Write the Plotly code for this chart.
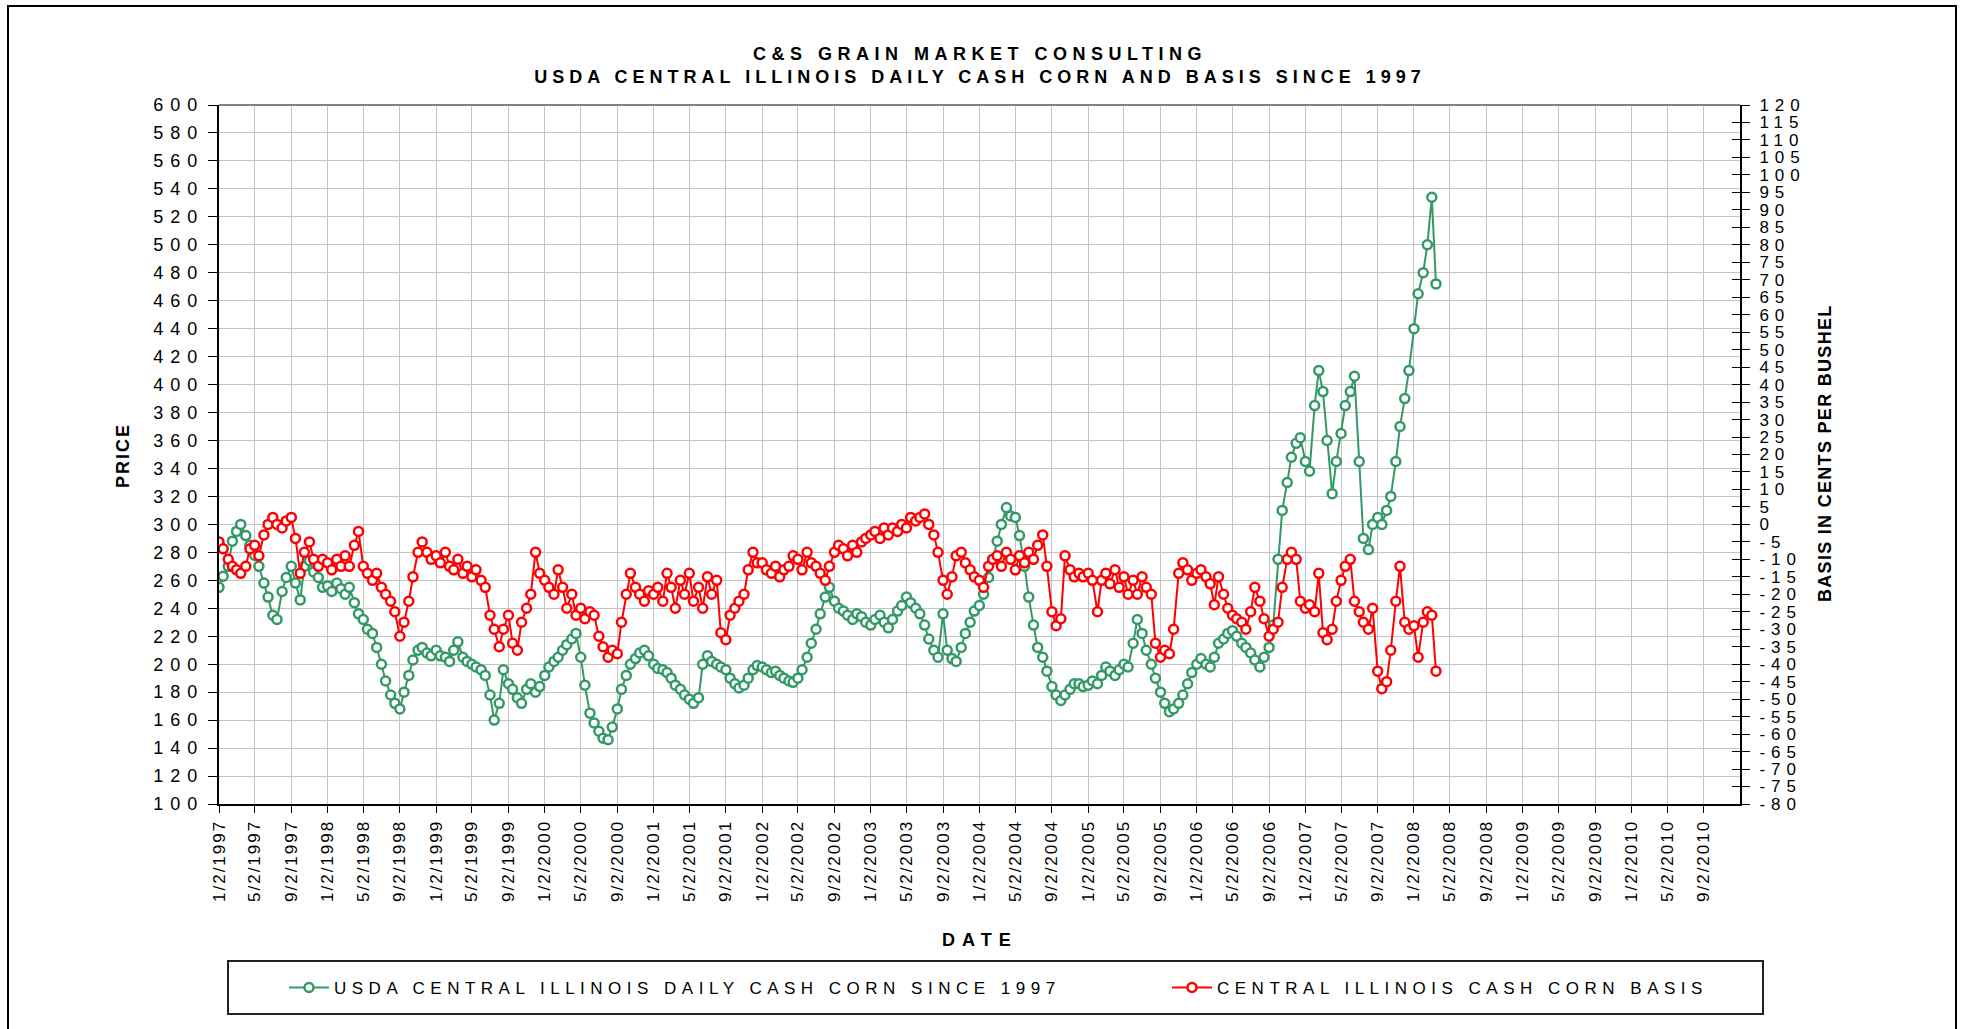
import plotly.graph_objects as go
import pandas as pd

# ---------------- data (two readings per month, 2nd and 16th) ----------------
price_1997 = [255, 263, 270, 288, 295, 300, 292, 285, 278, 270, 258, 248, 235, 232, 252, 262, 270, 258, 246, 270, 274, 266, 262, 255]
price_1998 = [256, 252, 258, 254, 250, 255, 244, 236, 232, 225, 222, 212, 200, 188, 178, 172, 168, 180, 192, 203, 210, 212, 208, 206]
price_1999 = [210, 206, 205, 202, 210, 216, 205, 202, 200, 198, 196, 192, 178, 160, 172, 196, 186, 182, 176, 172, 182, 186, 180, 184]
price_2000 = [192, 198, 202, 205, 210, 214, 218, 222, 205, 185, 165, 158, 152, 147, 146, 155, 168, 182, 192, 200, 204, 208, 210, 206]
price_2001 = [200, 197, 196, 194, 190, 185, 182, 178, 175, 172, 176, 200, 206, 202, 200, 198, 196, 190, 186, 183, 185, 190, 196, 199]
price_2002 = [198, 196, 194, 195, 192, 190, 188, 187, 190, 196, 205, 215, 225, 236, 248, 255, 245, 240, 238, 235, 232, 236, 234, 230]
price_2003 = [228, 232, 235, 230, 226, 232, 238, 242, 248, 244, 240, 236, 228, 218, 210, 205, 236, 210, 204, 202, 212, 222, 230, 238]
price_2004 = [242, 250, 262, 275, 288, 300, 312, 306, 305, 292, 270, 248, 228, 212, 205, 195, 184, 178, 174, 178, 182, 186, 186, 184]
price_2005 = [185, 188, 186, 192, 198, 195, 192, 196, 200, 198, 215, 232, 222, 210, 200, 190, 180, 172, 166, 168, 172, 178, 186, 194]
price_2006 = [200, 204, 200, 198, 205, 215, 218, 222, 224, 220, 215, 212, 208, 203, 198, 205, 212, 228, 275, 310, 330, 348, 358, 362]
price_2007 = [345, 338, 385, 410, 395, 360, 322, 345, 365, 385, 395, 406, 345, 290, 282, 300, 305, 300, 310, 320, 345, 370, 390, 410]
price_2008 = [440, 465, 480, 500, 534, 472]

basis_1997 = [-5, -7, -10, -12, -13, -14, -12, -7, -6, -9, -3, 0, 2, 0, -1, 1, 2, -4, -14, -8, -5, -10, -12, -10]
basis_1998 = [-11, -13, -10, -12, -9, -12, -6, -2, -12, -14, -16, -14, -18, -20, -22, -25, -32, -28, -22, -15, -8, -5, -8, -10]
basis_1999 = [-9, -11, -8, -12, -13, -10, -14, -12, -15, -13, -16, -18, -26, -30, -35, -30, -26, -34, -36, -28, -24, -20, -8, -14]
basis_2000 = [-16, -18, -20, -13, -18, -24, -20, -26, -24, -27, -25, -26, -32, -35, -38, -36, -37, -28, -20, -14, -18, -20, -22, -19]
basis_2001 = [-20, -18, -22, -14, -18, -24, -16, -20, -14, -22, -18, -24, -15, -20, -16, -31, -33, -26, -24, -22, -20, -13, -8, -11]
basis_2002 = [-11, -13, -14, -12, -15, -13, -12, -9, -10, -13, -8, -11, -12, -14, -16, -12, -8, -6, -7, -9, -6, -8, -5, -4]
basis_2003 = [-3, -2, -4, -1, -3, -1, -2, 0, -1, 2, 1, 2, 3, 0, -3, -8, -16, -20, -15, -9, -8, -11, -13, -15]
basis_2004 = [-16, -18, -12, -10, -9, -12, -8, -10, -13, -9, -11, -8, -10, -6, -3, -12, -25, -29, -27, -9, -13, -15, -14, -15]
basis_2005 = [-14, -16, -25, -16, -14, -17, -13, -18, -15, -20, -16, -20, -15, -18, -20, -34, -38, -36, -37, -30, -14, -11, -13, -16]
basis_2006 = [-14, -13, -15, -17, -23, -15, -20, -24, -26, -27, -28, -30, -25, -18, -22, -27, -32, -30, -28, -18, -10, -8, -10, -22]
basis_2007 = [-24, -23, -25, -14, -31, -33, -30, -22, -16, -12, -10, -22, -25, -28, -30, -24, -42, -47, -45, -36, -22, -12, -28, -30]
basis_2008 = [-29, -38, -28, -25, -26, -42]

price = (price_1997 + price_1998 + price_1999 + price_2000 + price_2001 + price_2002 +
         price_2003 + price_2004 + price_2005 + price_2006 + price_2007 + price_2008)
basis = (basis_1997 + basis_1998 + basis_1999 + basis_2000 + basis_2001 + basis_2002 +
         basis_2003 + basis_2004 + basis_2005 + basis_2006 + basis_2007 + basis_2008)
dates = pd.date_range("1997-01-01", periods=len(price), freq="SMS") + pd.Timedelta(days=1)

tick_years = list(range(1997, 2011))
tick_months = [1, 5, 9]
tick_dates = [f"{y}-{m:02d}-02" for y in tick_years for m in tick_months]
tick_labels = [f"{m}/2/{y}" for y in tick_years for m in tick_months]
price_ticks = list(range(100, 601, 20))
basis_ticks = list(range(-80, 121, 5))

title_lines = ["C&S GRAIN MARKET CONSULTING", "USDA CENTRAL ILLINOIS DAILY CASH CORN AND BASIS SINCE 1997"]
name_price = "USDA CENTRAL ILLINOIS DAILY CASH CORN SINCE 1997"
name_basis = "CENTRAL ILLINOIS CASH CORN BASIS"

# ---------------- styling ----------------
FONT = "Liberation Sans, Arial, sans-serif"
GREEN = "#339966"
RED = "#FF0000"
GRID = "#c4c4c4"
W, H = 1963, 1029
L, R, T, B = 219, 223, 105, 225
PW, PH = W - L - R, H - T - B


def ls(text, px):
    return f'<span style="letter-spacing:{px}px">{text}</span>'


def px_x(x):
    return (x - L) / PW


def px_y(y):
    return (H - B - y) / PH


fig = go.Figure()
fig.add_trace(go.Scatter(
    x=dates, y=price, name=ls(name_price, 5.5), mode="lines+markers",
    line=dict(color=GREEN, width=2),
    marker=dict(symbol="circle", size=9, color="white", line=dict(color=GREEN, width=2.5)),
    yaxis="y", legend="legend"))
fig.add_trace(go.Scatter(
    x=dates, y=basis, name=ls(name_basis, 5.5), mode="lines+markers",
    line=dict(color=RED, width=2),
    marker=dict(symbol="circle", size=9, color="white", line=dict(color=RED, width=2.5)),
    yaxis="y2", legend="legend2"))
fig.add_trace(go.Scatter(x=[], y=[], yaxis="y3", showlegend=False, hoverinfo="skip"))

legend_common = dict(orientation="h", xanchor="left", yanchor="middle", y=px_y(988),
                     font=dict(size=17, family=FONT), bgcolor="rgba(0,0,0,0)",
                     borderwidth=0, itemwidth=40)

fig.update_layout(
    width=W, height=H,
    margin=dict(l=L, r=R, t=T, b=B, autoexpand=False),
    paper_bgcolor="white", plot_bgcolor="white",
    font=dict(family=FONT, color="black", size=16),
    title=dict(text=ls(title_lines[0], 5.5) + "<br>" + ls(title_lines[1], 5),
               x=px_x(980), xref="paper", xanchor="center",
               y=1 - 60 / H, yref="container", yanchor="middle",
               font=dict(family=FONT, size=18, color="black", weight=700)),
    xaxis=dict(type="date", range=["1997-01-02", "2011-01-02"],
               tickmode="array", tickvals=tick_dates, ticktext=[ls(t, 2) for t in tick_labels],
               tickangle=-90, tickfont=dict(size=17),
               ticks="outside", ticklen=7, tickcolor="black", tickwidth=1,
               showgrid=True, gridcolor=GRID, gridwidth=1,
               showline=True, linecolor="black", linewidth=2, zeroline=False),
    yaxis=dict(range=[100, 600], tickmode="array", tickvals=price_ticks,
               ticktext=[ls(str(v), 7) for v in price_ticks], tickfont=dict(size=18),
               ticks="outside", ticklen=9, tickcolor="black",
               showgrid=True, gridcolor=GRID, gridwidth=1,
               showline=True, linecolor="black", linewidth=2, zeroline=False),
    yaxis2=dict(range=[-80, 120], overlaying="y", side="right", tickmode="array",
                tickvals=basis_ticks, ticktext=[ls(str(v), 6) for v in basis_ticks],
                tickfont=dict(size=17), ticks="outside", ticklen=8, tickcolor="black",
                ticklabelstandoff=6,
                showgrid=False, showline=True, linecolor="black", linewidth=2, zeroline=False),
    yaxis3=dict(range=[-80, 120], overlaying="y", side="right", tickmode="array",
                tickvals=basis_ticks, ticks="inside", ticklen=8, tickcolor="black",
                showticklabels=False, showgrid=False, showline=False, zeroline=False),
    legend=dict(x=px_x(284), **legend_common),
    legend2=dict(x=px_x(1167), **legend_common),
    showlegend=True,
)

fig.add_annotation(text=ls("PRICE", 2), x=px_x(123), y=px_y(456), xref="paper", yref="paper",
                   xanchor="center", yanchor="middle",
                   textangle=-90, showarrow=False, font=dict(size=18, weight=700))
fig.add_annotation(text=ls("BASIS IN CENTS PER BUSHEL", 1.3), x=px_x(1825), y=px_y(453),
                   xref="paper", yref="paper", xanchor="center", yanchor="middle",
                   textangle=-90, showarrow=False, font=dict(size=18, weight=700))
fig.add_annotation(text=ls("DATE", 7), x=px_x(980), y=px_y(940), xref="paper", yref="paper",
                   xanchor="center", yanchor="middle",
                   showarrow=False, font=dict(size=18, weight=700))

# plot-area top edge, legend frame and chart-area frame
fig.add_shape(type="line", xref="paper", yref="paper", x0=0, x1=1, y0=1, y1=1,
              line=dict(color="#808080", width=2))
fig.add_shape(type="rect", xref="paper", yref="paper",
              x0=px_x(228), x1=px_x(1763), y0=px_y(961), y1=px_y(1014),
              line=dict(color="#222222", width=2), fillcolor="rgba(0,0,0,0)")
fig.add_shape(type="rect", xref="paper", yref="paper",
              x0=px_x(8), x1=px_x(1956), y0=px_y(6), y1=px_y(1045),
              line=dict(color="black", width=2), fillcolor="rgba(0,0,0,0)")

fig.write_html("out.html", config={"displayModeBar": False},
               post_script="document.body.style.margin='0px';document.body.style.overflow='hidden';")
